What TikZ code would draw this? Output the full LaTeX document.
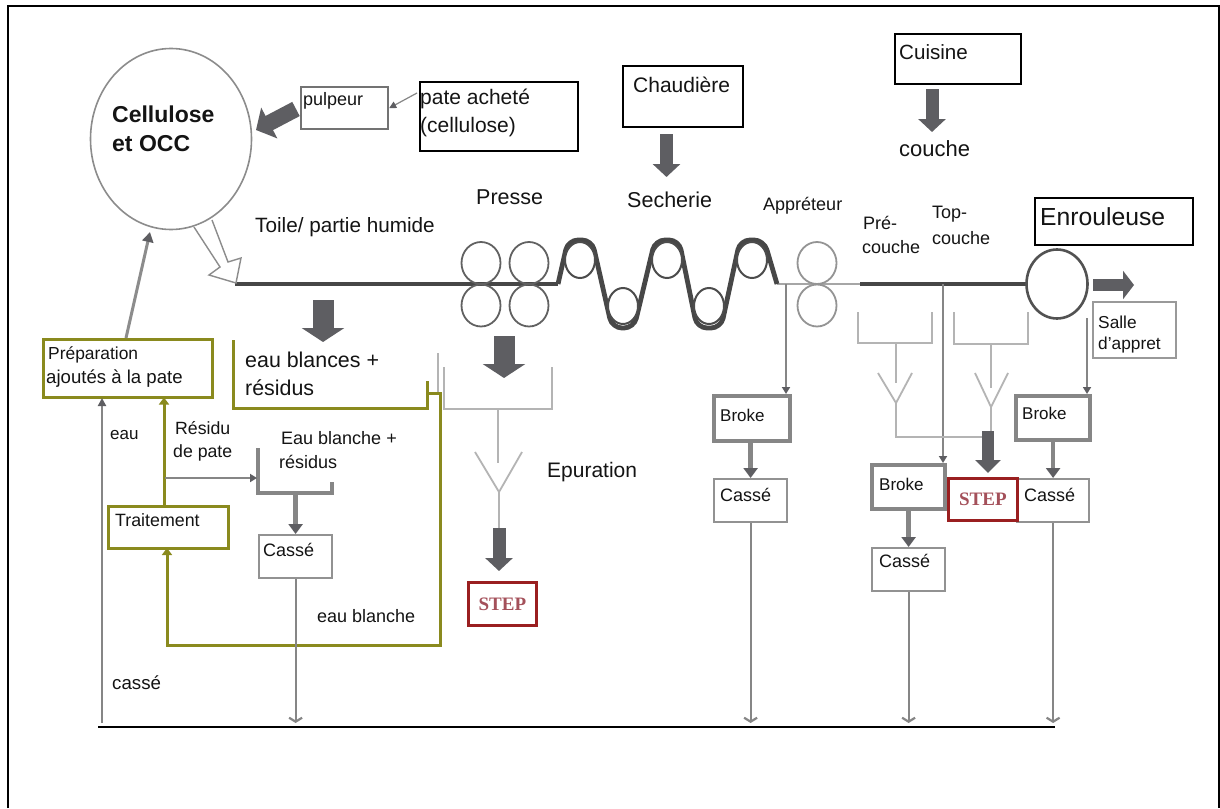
\documentclass[tikz,border=0pt]{standalone}
\usepackage{fontspec}
\setmainfont{Liberation Sans}
\newfontfamily\stepfont{Liberation Serif}
\usetikzlibrary{arrows.meta,shapes.geometric}
\definecolor{olive}{HTML}{8A8A1E}
\definecolor{darkred}{HTML}{9A1F20}
\definecolor{stepink}{HTML}{A4505A}
\definecolor{blk}{HTML}{5E5E62}
\definecolor{midg}{HTML}{868686}
\definecolor{ligh}{HTML}{B4B4B4}
\newcommand{\fs}[1]{\fontsize{#1}{#1}\selectfont}
\tikzset{
  lab/.style={anchor=west,inner sep=0pt,text=black!92},
  plain/.style={rectangle,inner sep=0pt,anchor=north west},
  blackbox/.style={plain,draw=black,line width=1.6pt},
  graybox/.style={plain,draw=midg!90,line width=2.2pt},
  brokebox/.style={plain,draw=midg,line width=3.5pt},
  olivebox/.style={plain,draw=olive,line width=2.8pt},
  stepbox/.style={plain,draw=darkred,line width=2.8pt,text=stepink,font=\stepfont\bfseries\fs{19}},
  blockA/.style={draw=blk,line width=21pt,-{Triangle[length=14pt,width=42pt]}},
  blockB/.style={draw=blk,line width=13pt,-{Triangle[length=13pt,width=27pt]}},
  joinarrow/.style={draw=midg,line width=4.5pt,-{Triangle[length=10pt,width=14pt,color=blk,fill=blk]}},
  thinarrow/.style={draw=midg,line width=1.8pt,-{Triangle[length=7pt,width=8pt,color=blk,fill=blk]}},
  downarrow/.style={draw=midg,line width=2.2pt,-{Straight Barb[length=4pt,width=13pt]}},
  olivearrow/.style={draw=olive,line width=3pt,-{Triangle[length=7pt,width=10pt]}},
  tray/.style={draw=ligh,line width=1.8pt},
  roller/.style={draw=black!62,line width=1.8pt},
  rollerlight/.style={draw=black!42,line width=1.8pt},
}
\begin{document}
\begin{tikzpicture}[x=1pt,y=-1pt]
\useasboundingbox (0,0) rectangle (1220,808);
\fill[white] (0,0) rectangle (1220,808);
\draw[black,line width=2.2pt] (8,808) -- (8,6) -- (1219,6) -- (1219,808);

% main web
\coordinate (webA) at (235,284);
\coordinate (webB) at (558,284);
\coordinate (webC) at (777,284);
\coordinate (webD) at (860,284);
\coordinate (webE) at (1027,284);
\coordinate (j1) at (786,284);
\coordinate (j2) at (943,284);
\coordinate (j3) at (1087,318);
\draw[black!72,line width=3.2pt] (webA) -- (webB);
\draw[black!35,line width=2.4pt] (webC) -- (webD);
\draw[black!72,line width=3.2pt] (webD) -- (webE);

% circle
\node[draw=black!45,line width=1.6pt,ellipse,inner sep=0pt,minimum width=161pt,minimum height=181pt] (cell) at (171,139) {};
\node[lab,font=\bfseries\fs{23}] (celltxt) at (112,114) {Cellulose};
\node[lab,font=\bfseries\fs{23}] (celltxt2) at (112,144) {et OCC};

% top boxes
\node[graybox,draw=black!55,minimum width=87pt,minimum height=42pt] (pulp) at (300,86) {};
\node[lab,font=\fs{18}] (pulpt) at (303,101) {pulpeur};
\node[blackbox,minimum width=158pt,minimum height=69pt] (pate) at (419,81) {};
\node[lab,font=\fs{21}] (patet) at (420,99) {pate acheté};
\node[lab,font=\fs{21}] (patet2) at (420,127) {(cellulose)};
\node[blackbox,minimum width=120pt,minimum height=61pt] (chaud) at (622,65) {};
\node[lab,font=\fs{21}] (chaudt) at (633,85) {Chaudière};
\node[blackbox,minimum width=126pt,minimum height=50pt] (cuis) at (894,33) {};
\node[lab,font=\fs{20.6}] (cuist) at (899,52) {Cuisine};
\node[lab,font=\fs{22}] (couche) at (899,149) {couche};
\node[blackbox,minimum width=158pt,minimum height=47pt] (enr) at (1034,197) {};
\node[lab,font=\fs{24.7}] (enrt) at (1040,217) {Enrouleuse};

% arrows at the top
\coordinate (pulpA) at (296,109);
\coordinate (pulpB) at (256,130);
\draw[draw=blk,line width=16pt,-{Triangle[length=15pt,width=34pt]}] (pulpA) -- (pulpB);
\coordinate (pateA) at (417,93);
\draw[draw=midg,line width=1.2pt,-{Triangle[length=7pt,width=7pt,color=blk,fill=blk]}] (pateA) -- (pulp.east);
\coordinate (chA) at (666.5,134);
\coordinate (chB) at (666.5,177);
\draw[blockB] (chA) -- (chB);
\coordinate (cuA) at (932,89);
\coordinate (cuB) at (932,132);
\draw[blockB] (cuA) -- (cuB);

% process labels
\node[lab,font=\fs{20.7}] (toile) at (255,227) {Toile/ partie humide};
\node[lab,font=\fs{21.5}] (presse) at (476,197) {Presse};
\node[lab,font=\fs{21.5}] (sech) at (627,200) {Secherie};
\node[lab,font=\fs{18}] (appr) at (763,206) {Appréteur};
\node[lab,font=\fs{18}] (pre1) at (863,223) {Pré-};
\node[lab,font=\fs{18}] (pre2) at (862,247) {couche};
\node[lab,font=\fs{18}] (top1) at (932,214) {Top-};
\node[lab,font=\fs{18}] (top2) at (932,238) {couche};
\node[lab,font=\fs{21}] (epur) at (547,472) {Epuration};

% felt through the dryers
\draw[black!72,line width=4.8pt,rounded corners=10pt,line join=round]
  (webB) -- (568,240) -- (592,240) -- (612,328) -- (634,328) -- (655,240) -- (679,240)
  -- (697,328) -- (721,328) -- (740,240) -- (764,240) -- (webC);

% rollers
\foreach \n/\cx/\cy in {p1/481/263,p2/529/263,p3/481/305.5,p4/529/305.5}
  \node[roller,ellipse,inner sep=0pt,minimum width=39pt,minimum height=42pt] (\n) at (\cx,\cy) {};
\foreach \n/\cx/\cy in {d1/580/260,d3/667/260,d5/752/260,d2/623/306,d4/709/306}
  \node[draw=black!70,line width=2pt,fill=white,ellipse,inner sep=0pt,minimum width=30pt,minimum height=36pt] (\n) at (\cx,\cy) {};
\foreach \n/\cx/\cy in {a1/817/263,a2/817/305.5}
  \node[rollerlight,ellipse,inner sep=0pt,minimum width=39pt,minimum height=42pt] (\n) at (\cx,\cy) {};
\node[draw=black!68,line width=2.6pt,fill=white,ellipse,inner sep=0pt,minimum width=61pt,minimum height=69pt] (reel) at (1057,284) {};

% feed from circle (open block arrow)
\filldraw[fill=white,draw=black!45,line width=1.4pt]
  (194,227) -- (220,267) -- (209,275) -- (236,283) -- (241,258) -- (228,262) -- (212,220);

% reel output
\coordinate (rA) at (1093,285);
\coordinate (rB) at (1134,285);
\draw[draw=blk,line width=12pt,-{Triangle[length=11pt,width=28pt]}] (rA) -- (rB);
\node[graybox,draw=black!40,minimum width=83pt,minimum height=56pt] (salle) at (1092,301) {};
\node[lab,font=\fs{17.3}] (sa1) at (1098,322) {Salle};
\node[lab,font=\fs{17.3}] (sa2) at (1098,345) {d'appret};

% left side
\node[olivebox,minimum width=169pt,minimum height=58pt] (prep) at (42,338) {};
\node[lab,font=\fs{17.4}] (prep1) at (48,355) {Préparation};
\node[lab,font=\fs{18.6}] (prep2) at (46,379) {ajoutés à la pate};
\coordinate (pcA) at (126,338);
\coordinate (pcB) at (150,232);
\draw[draw=black!45,line width=3pt,-{Triangle[length=10pt,width=11pt,color=blk,fill=blk]}] (pcA) -- (pcB);

% baseline, water line
\coordinate (baseL) at (98,727);
\coordinate (baseR) at (1055,727);
\draw[black,line width=1.6pt] (baseL) -- (baseR);
\coordinate (eauA) at (102,723);
\coordinate (eauB) at (102,398);
\draw[draw=midg,line width=2.4pt,-{Triangle[length=8pt,width=8pt,color=blk,fill=blk]}] (eauA) -- (eauB);
\node[lab,font=\fs{17}] (eaut) at (110,435) {eau};
\node[lab,font=\fs{18.7}] (casset) at (112,683) {cassé};

\node[olivebox,fill=white,minimum width=120pt,minimum height=42pt] (trait) at (107,505) {};
\node[lab,font=\fs{17.8}] (traitt) at (115,520) {Traitement};
\coordinate (tpA) at (164,505);
\coordinate (tpB) at (164,397.5);
\draw[olivearrow] (tpA) -- (tpB);

% white water
\coordinate (o1) at (233,340);
\coordinate (o2) at (233,408);
\coordinate (o3) at (427,408);
\coordinate (o4) at (427,381);
\coordinate (o5) at (427,393);
\coordinate (o6) at (440,393);
\coordinate (o7) at (440,645);
\coordinate (o8) at (167,645);
\coordinate (o9) at (167,548);
\draw[olive,line width=3pt] (o1) -- (o2) -- (o3) -- (o4);
\draw[olivearrow] (o5) -- (o6) -- (o7) -- (o8) -- (o9);
\node[lab,font=\fs{21.4}] (eb1) at (245,360) {eau blances +};
\node[lab,font=\fs{21.4}] (eb2) at (245,388) {résidus};
\node[lab,font=\fs{18}] (ebl) at (317,616) {eau blanche};
\node[lab,font=\fs{17.7}] (res1) at (175,428) {Résidu};
\node[lab,font=\fs{17.7}] (res2) at (173,453) {de pate};
\node[lab,font=\fs{18}] (eb3) at (281,438) {Eau blanche +};
\node[lab,font=\fs{18}] (eb4) at (279,462) {résidus};

% tray of the residue branch
\coordinate (tl) at (258,448);
\coordinate (tb1) at (258,493);
\coordinate (tb2) at (332,493);
\coordinate (tr) at (332,482);
\draw[draw=midg,line width=3.4pt] (tl) -- (tb1) -- (tb2) -- (tr);
\coordinate (rsA) at (165,478);
\coordinate (rsB) at (257,478);
\draw[thinarrow] (rsA) -- (rsB);
\node[graybox,minimum width=73pt,minimum height=43pt] (casse0) at (258,534) {};
\node[lab,font=\fs{18}] (c0t) at (263,550) {Cassé};
\coordinate (tcA) at (casse0.north |- tb1);
\draw[joinarrow] (tcA) -- (casse0.north);
\draw[downarrow] (casse0.south) -- (casse0.south |- eauA);

% press tray and its purifier
\coordinate (pt0) at (438,353);
\coordinate (pt00) at (438,392);
\draw[tray] (pt0) -- (pt00);
\coordinate (pt1) at (444,367);
\coordinate (pt2) at (444,409);
\coordinate (pt3) at (552,409);
\coordinate (pt4) at (552,367);
\draw[tray] (pt1) -- (pt2) -- (pt3) -- (pt4);
\coordinate (ps1) at (498,409);
\coordinate (ps2) at (498,463);
\draw[tray] (ps1) -- (ps2);
\coordinate (pv1) at (475,452);
\coordinate (pv2) at (499,492);
\coordinate (pv3) at (522,452);
\coordinate (pv4) at (499,528);
\draw[tray] (pv1) -- (pv2) -- (pv3);
\draw[tray] (pv2) -- (pv4);
\coordinate (paA) at (504,336);
\coordinate (paB) at (504,378);
\draw[blockA] (paA) -- (paB);
\coordinate (toA) at (323,300);
\coordinate (toB) at (323,342);
\draw[blockA] (toA) -- (toB);
\node[stepbox,minimum width=68pt,minimum height=43pt] (step1) at (467,581) {STEP};
\coordinate (s1A) at (499,528);
\coordinate (s1B) at (499,571);
\draw[blockB] (s1A) -- (s1B);

% appreteur branch
\node[brokebox,minimum width=76pt,minimum height=45pt] (broke1) at (712,394) {};
\node[lab,font=\fs{17}] (b1t) at (720,415) {Broke};
\node[graybox,minimum width=73pt,minimum height=43pt] (casse1) at (713,478) {};
\node[lab,font=\fs{18}] (c1t) at (720,495) {Cassé};
\coordinate (b1in) at (786,394);
\draw[thinarrow] (j1) -- (b1in);
\draw[joinarrow] (broke1.south) -- (broke1.south -| casse1.north) -- (casse1.north);
\draw[downarrow] (casse1.south) -- (casse1.south |- eauA);

% coating branch
\node[brokebox,minimum width=73pt,minimum height=44pt] (broke2) at (870,463) {};
\node[lab,font=\fs{17}] (b2t) at (879,484) {Broke};
\node[graybox,minimum width=73pt,minimum height=43pt] (casse2) at (871,547) {};
\node[lab,font=\fs{18}] (c2t) at (879,561) {Cassé};
\coordinate (b2in) at (943,463);
\draw[thinarrow] (j2) -- (b2in);
\draw[joinarrow] (broke2.south) -- (broke2.south -| casse2.north) -- (casse2.north);
\draw[downarrow] (casse2.south) -- (casse2.south |- eauA);

% coating trays
\coordinate (t1a) at (858,312);
\coordinate (t1b) at (858,343);
\coordinate (t1c) at (932,343);
\coordinate (t1d) at (932,312);
\draw[tray] (t1a) -- (t1b) -- (t1c) -- (t1d);
\coordinate (t2a) at (954,312);
\coordinate (t2b) at (954,344);
\coordinate (t2c) at (1028,344);
\coordinate (t2d) at (1028,312);
\draw[tray] (t2a) -- (t2b) -- (t2c) -- (t2d);
\coordinate (v1a) at (878,373);
\coordinate (v1b) at (896,403);
\coordinate (v1c) at (912,373);
\coordinate (v1s) at (896,343);
\coordinate (v1t) at (896,383);
\coordinate (v1e) at (896,437);
\coordinate (v1f) at (982,437);
\draw[tray] (v1a) -- (v1b) -- (v1c);
\draw[tray] (v1s) -- (v1t);
\draw[tray] (v1b) -- (v1e) -- (v1f);
\coordinate (v2a) at (975,373);
\coordinate (v2b) at (991,407);
\coordinate (v2c) at (1008,373);
\coordinate (v2s) at (991,344);
\coordinate (v2t) at (991,388);
\coordinate (v2e) at (991,432);
\draw[tray] (v2a) -- (v2b) -- (v2c);
\draw[tray] (v2s) -- (v2t);
\draw[tray] (v2b) -- (v2e);

% reel branch
\node[brokebox,minimum width=74pt,minimum height=44pt] (broke3) at (1014,394) {};
\node[lab,font=\fs{17}] (b3t) at (1022,413) {Broke};
\node[graybox,minimum width=72pt,minimum height=43pt] (casse3) at (1016,478) {};
\node[lab,font=\fs{18}] (c3t) at (1024,495) {Cassé};
\coordinate (b3in) at (1087,394);
\draw[thinarrow] (j3) -- (b3in);
\draw[joinarrow] (broke3.south) -- (broke3.south -| casse3.north) -- (casse3.north);
\draw[downarrow] (casse3.south) -- (casse3.south |- eauA);

% second STEP
\node[stepbox,fill=white,minimum width=69pt,minimum height=42pt] (step2) at (947,477) {STEP};
\coordinate (s2A) at (988,431);
\coordinate (s2B) at (988,473);
\draw[draw=blk,line width=12pt,-{Triangle[length=13pt,width=25pt]}] (s2A) -- (s2B);
\end{tikzpicture}
\end{document}
